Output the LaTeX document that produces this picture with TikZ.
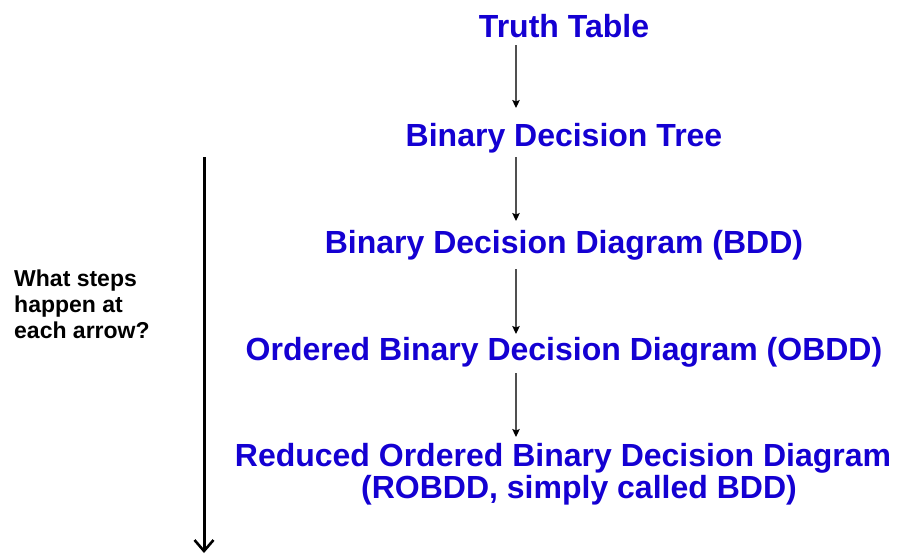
\documentclass[tikz,border=0pt]{standalone}
\usepackage{fontspec}
\setmainfont{Liberation Sans}
\usetikzlibrary{arrows.meta}
\definecolor{titleblue}{RGB}{20,0,210}
\definecolor{arrgray}{RGB}{80,80,80}
\tikzset{
  stagetext/.style={anchor=base, inner sep=0pt, text=titleblue, font=\fontsize{32}{36}\selectfont\bfseries},
  smallarrow/.style={draw=arrgray, line width=1.2pt, -{Stealth[length=8pt,width=7.5pt,inset=1.5pt,fill=black,color=black]}},
  bigarrow/.style={draw=black, line width=3pt, -{Straight Barb[length=11pt,width=19pt,line width=2.6pt]}},
  notetext/.style={anchor=base west, inner sep=0pt, align=left, font=\fontsize{23}{26}\selectfont\bfseries}
}
\begin{document}
\begin{tikzpicture}[x=1pt,y=-1pt]
\useasboundingbox (0,0) rectangle (898,555);
\node[stagetext] (tt) at (564,37) {Truth Table};
\node[stagetext] (bdt) at (564,146) {Binary Decision Tree};
\node[stagetext] (bdd) at (564,253) {Binary Decision Diagram (BDD)};
\node[stagetext] (obdd) at (564,360) {Ordered Binary Decision Diagram (OBDD)};
\node[stagetext] (robdd) at (563,466) {Reduced Ordered Binary Decision Diagram};
\node[stagetext] (robdd2) at (579,498) {(ROBDD, simply called BDD)};
\node[notetext] (note) at (14,338) {What steps\\happen at\\each arrow?};
\coordinate (a1s) at (516,45);  \coordinate (a1e) at (516,108);
\coordinate (a2s) at (516,157); \coordinate (a2e) at (516,221);
\coordinate (a3s) at (516,269); \coordinate (a3e) at (516,334);
\coordinate (a4s) at (516,373); \coordinate (a4e) at (516,437);
\coordinate (bs) at (204,157);  \coordinate (be) at (204,553);
\draw[smallarrow] (a1s) -- (a1e);
\draw[smallarrow] (a2s) -- (a2e);
\draw[smallarrow] (a3s) -- (a3e);
\draw[smallarrow] (a4s) -- (a4e);
\draw[bigarrow] (bs) -- (be);
\end{tikzpicture}
\end{document}
